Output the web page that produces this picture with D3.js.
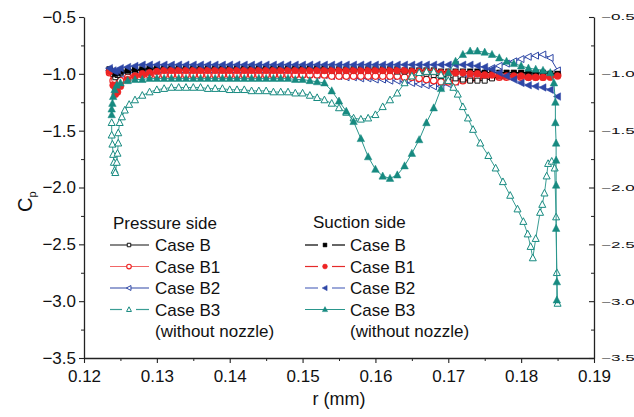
<!DOCTYPE html>
<html><head><meta charset="utf-8">
<script src="https://cdn.jsdelivr.net/npm/d3@7"></script>
<style>body{margin:0;background:#fff}svg{display:block}text{font-family:"Liberation Sans",Arial,sans-serif;fill:#111}</style>
</head><body><svg id="c" width="634" height="417"></svg>
<script>
// ---------- data ----------
const rGrid = [0.1235,0.1240,0.1243,0.1246,0.125,
  0.126,0.127,0.128,0.129,0.130,
  0.131,0.132,0.133,0.134,0.135,0.136,0.137,0.138,0.139,0.140,
  0.141,0.142,0.143,0.144,0.145,0.146,0.147,0.148,0.149,0.150,
  0.151,0.152,0.153,0.154,0.155,0.156,0.157,0.158,0.159,0.160,
  0.161,0.162,0.163,0.164,0.165,0.166,0.167,0.168,0.169,0.170,
  0.171,0.172,0.173,0.174,0.175,0.176,0.177,0.178,0.179,0.180,
  0.181,0.182,0.183,0.184,0.185];

const pressureB = [-0.97,-1.00,-1.03,-1.01,-0.99,
  -0.98,-0.97,-0.97,-0.96,-0.96,
  -0.96,-0.96,-0.96,-0.96,-0.96,-0.96,-0.96,-0.96,-0.96,-0.96,
  -0.96,-0.96,-0.96,-0.96,-0.96,-0.96,-0.96,-0.96,-0.96,-0.96,
  -0.96,-0.96,-0.97,-0.97,-0.97,-0.97,-0.97,-0.97,-0.97,-0.97,
  -0.97,-0.97,-0.98,-0.98,-0.98,-0.99,-1.00,-1.01,-1.02,-1.03,
  -1.04,-1.05,-1.06,-1.06,-1.06,-1.04,-1.02,-1.01,-1.00,-1.00,
  -1.00,-1.00,-1.00,-1.00,-1.01];
const pressureB1 = [-0.99,-1.06,-1.12,-1.10,-1.06,
  -1.03,-1.02,-1.01,-1.01,-1.01,
  -1.01,-1.01,-1.01,-1.01,-1.01,-1.01,-1.01,-1.01,-1.01,-1.01,
  -1.01,-1.01,-1.01,-1.01,-1.01,-1.01,-1.01,-1.01,-1.01,-1.01,
  -1.01,-1.01,-1.01,-1.02,-1.02,-1.02,-1.02,-1.02,-1.02,-1.02,
  -1.02,-1.02,-1.02,-1.03,-1.03,-1.04,-1.05,-1.06,-1.07,-1.07,
  -1.07,-1.06,-1.05,-1.04,-1.03,-1.03,-1.03,-1.03,-1.03,-1.03,
  -1.03,-1.03,-1.03,-1.02,-1.01];
const pressureB2 = [-0.97,-1.00,-1.02,-1.01,-1.00,
  -0.99,-0.99,-0.99,-0.99,-0.99,
  -0.99,-0.99,-0.99,-0.99,-0.99,-0.99,-0.99,-0.99,-0.99,-0.99,
  -0.99,-0.99,-0.99,-0.99,-0.99,-0.99,-0.99,-0.99,-1.00,-1.00,
  -1.00,-1.01,-1.01,-1.02,-1.02,-1.03,-1.03,-1.04,-1.04,-1.05,
  -1.05,-1.06,-1.06,-1.07,-1.08,-1.09,-1.10,-1.11,-1.11,-1.09,
  -1.07,-1.04,-1.02,-1.00,-0.98,-0.95,-0.93,-0.91,-0.89,-0.87,
  -0.85,-0.84,-0.83,-0.86,-0.97];
const suctionB = [-0.96,-0.98,-1.00,-0.99,-0.98,
  -0.97,-0.96,-0.96,-0.95,-0.95,
  -0.95,-0.95,-0.95,-0.95,-0.95,-0.95,-0.95,-0.95,-0.95,-0.95,
  -0.95,-0.95,-0.95,-0.95,-0.95,-0.95,-0.95,-0.95,-0.95,-0.95,
  -0.95,-0.95,-0.95,-0.96,-0.96,-0.96,-0.96,-0.96,-0.96,-0.96,
  -0.96,-0.96,-0.96,-0.97,-0.97,-0.97,-0.97,-0.97,-0.98,-0.98,
  -0.98,-0.98,-0.98,-0.98,-0.99,-0.99,-0.99,-0.99,-0.99,-0.99,
  -0.99,-0.99,-0.99,-1.00,-1.00];
const suctionB1 = [-0.98,-1.10,-1.18,-1.16,-1.11,
  -1.05,-1.02,-1.00,-0.99,-0.98,
  -0.97,-0.97,-0.97,-0.97,-0.97,-0.97,-0.97,-0.97,-0.97,-0.97,
  -0.97,-0.97,-0.97,-0.97,-0.97,-0.97,-0.97,-0.97,-0.97,-0.97,
  -0.97,-0.97,-0.97,-0.97,-0.97,-0.97,-0.97,-0.97,-0.97,-0.97,
  -0.97,-0.97,-0.97,-0.97,-0.98,-0.98,-0.98,-0.98,-0.99,-0.99,
  -0.99,-0.99,-1.00,-1.00,-1.01,-1.01,-1.02,-1.02,-1.02,-1.02,
  -1.03,-1.03,-1.03,-1.03,-1.02];
const suctionB2 = [-0.95,-0.97,-0.98,-0.97,-0.95,
  -0.94,-0.93,-0.92,-0.92,-0.92,
  -0.92,-0.92,-0.92,-0.92,-0.92,-0.92,-0.92,-0.92,-0.92,-0.92,
  -0.92,-0.92,-0.92,-0.92,-0.92,-0.92,-0.92,-0.92,-0.92,-0.92,
  -0.92,-0.92,-0.92,-0.92,-0.92,-0.92,-0.92,-0.92,-0.92,-0.92,
  -0.92,-0.92,-0.92,-0.92,-0.92,-0.92,-0.92,-0.92,-0.92,-0.92,
  -0.92,-0.92,-0.92,-0.93,-0.94,-0.96,-0.99,-1.02,-1.05,-1.08,
  -1.10,-1.11,-1.12,-1.14,-1.20];

const rB3Pressure = [0.1238,0.1238,0.1239,0.1240,0.1241,0.1242,0.1243,0.1245,0.1246,0.1247,
  0.1247,0.1249,0.1252,0.1256,0.1262,0.127,0.128,0.129,0.130,
  0.131,0.132,0.133,0.134,0.135,0.136,0.137,0.138,0.139,0.140,
  0.141,0.142,0.143,0.144,0.145,0.146,0.147,0.148,0.149,0.150,
  0.151,0.152,0.153,0.154,0.155,0.156,0.157,0.158,0.159,0.160,
  0.161,0.162,0.163,0.164,0.165,0.166,0.167,0.168,0.169,0.170,
  0.1707,0.1713,0.1720,0.1727,0.1734,0.1744,0.1755,0.1765,0.1775,0.1785,
  0.1795,0.1803,0.1809,0.1813,0.1816,0.1820,0.1826,0.1829,0.1832,0.1835,
  0.1837,0.1842,0.1846,0.1848,0.1849,0.1850];
const cpB3Pressure = [-1.43,-1.54,-1.62,-1.71,-1.78,-1.85,-1.87,-1.78,-1.70,-1.61,
  -1.52,-1.43,-1.38,-1.32,-1.27,-1.23,-1.19,-1.16,-1.14,
  -1.13,-1.12,-1.12,-1.12,-1.12,-1.12,-1.13,-1.13,-1.13,-1.14,
  -1.14,-1.14,-1.15,-1.15,-1.15,-1.16,-1.16,-1.16,-1.17,-1.17,
  -1.19,-1.21,-1.23,-1.26,-1.30,-1.34,-1.39,-1.40,-1.39,-1.36,
  -1.29,-1.23,-1.17,-1.08,-1.02,-0.99,-0.98,-0.98,-1.01,-1.06,
  -1.12,-1.18,-1.29,-1.39,-1.49,-1.61,-1.72,-1.83,-1.95,-2.07,
  -2.19,-2.30,-2.41,-2.52,-2.62,-2.45,-2.22,-2.15,-2.05,-1.90,
  -1.79,-1.77,-1.83,-2.26,-2.75,-3.02];

const rB3Suction = [0.1238,0.1238,0.1239,0.1240,0.1242,0.1245,0.125,
  0.126,0.127,0.128,0.129,0.130,
  0.131,0.132,0.133,0.134,0.135,0.136,0.137,0.138,0.139,0.140,
  0.141,0.142,0.143,0.144,0.145,0.146,0.147,0.148,0.149,0.150,
  0.151,0.152,0.153,0.154,0.155,0.156,0.157,0.158,0.159,0.160,
  0.161,0.162,0.163,0.164,0.165,0.166,0.167,0.168,0.169,0.170,
  0.171,0.172,0.173,0.174,0.175,0.176,0.177,0.178,0.179,0.180,
  0.181,0.182,0.183,0.184,
  0.1845,0.1847,0.1847,0.1848,0.1848,0.1848,0.1848,0.1849,0.1849];
const cpB3Suction = [-1.36,-1.31,-1.26,-1.20,-1.14,-1.10,-1.08,
  -1.06,-1.05,-1.05,-1.04,-1.04,
  -1.04,-1.04,-1.04,-1.04,-1.04,-1.04,-1.04,-1.04,-1.04,-1.04,
  -1.04,-1.04,-1.04,-1.04,-1.04,-1.04,-1.04,-1.04,-1.05,-1.05,
  -1.06,-1.07,-1.08,-1.15,-1.24,-1.33,-1.42,-1.57,-1.73,-1.84,
  -1.90,-1.92,-1.89,-1.81,-1.70,-1.58,-1.43,-1.30,-1.13,-0.99,
  -0.89,-0.83,-0.80,-0.80,-0.81,-0.83,-0.86,-0.89,-0.91,-0.93,
  -0.95,-0.96,-0.97,-0.99,
  -1.08,-1.25,-1.43,-1.61,-1.76,-1.98,-2.36,-2.83,-2.99];

const xTicks = [0.12,0.13,0.14,0.15,0.16,0.17,0.18,0.19];
const xMinorTicks = [0.125,0.135,0.145,0.155,0.165,0.175,0.185];
const yTicks = [-3.5,-3.0,-2.5,-2.0,-1.5,-1.0,-0.5];
const yMinorTicks = [-3.25,-2.75,-2.25,-1.75,-1.25,-0.75];
const legendLabels = ["Case B","Case B1","Case B2","Case B3"];
const legendTitles = ["Pressure side","Suction side"];
const legendNote = "(without nozzle)";

// ---------- drawing ----------
const svg = d3.select('#c');
const x = d3.scaleLinear().domain([0.12,0.19]).range([84,594]);
const y = d3.scaleLinear().domain([-3.5,-0.5]).range([358,17]);

const TEAL = '#178a80', BLUE = '#2e47a6', RED = '#ee2424';
const markerPath = {
  square: s => `M${-s/2},${-s/2}h${s}v${s}h${-s}Z`,
  tri: s => `M0,${-s*0.55}L${s/2},${s*0.4}L${-s/2},${s*0.4}Z`,
  left: s => `M${-s*0.55},0L${s*0.4},${-s/2}L${s*0.4},${s/2}Z`,
  circle: s => `M${s/2},0A${s/2},${s/2} 0 1,1 ${-s/2},0A${s/2},${s/2} 0 1,1 ${s/2},0Z`
};

function mk(r, v, o){ return Object.assign({pts: d3.zip(r, v)}, o); }
const series = [
  mk(rGrid, pressureB2, {line:BLUE, lw:1, m:'left', s:7, fill:'#fff', stroke:BLUE, msw:1}),
  mk(rGrid, pressureB1, {line:'#f26666', lw:1, m:'circle', s:6.5, fill:'#fff', stroke:RED, msw:1.2}),
  mk(rGrid, pressureB, {line:'#111', lw:1, m:'square', s:5, fill:'#fff', stroke:'#111', msw:1}),
  mk(rGrid, suctionB, {line:'#000', lw:1.2, m:'square', s:5.5, fill:'#000', stroke:'#000', msw:0.5}),
  mk(rGrid, suctionB1, {line:'#e52a2a', lw:1, m:'circle', s:7, fill:RED, stroke:RED, msw:0.5}),
  mk(rGrid, suctionB2, {line:'#5a6fc0', lw:1, m:'left', s:7.5, fill:BLUE, stroke:BLUE, msw:0.5}),
  mk(rB3Pressure, cpB3Pressure, {line:'#3a9d94', lw:1, m:'tri', s:7, fill:'#fff', stroke:TEAL, msw:1}),
  mk(rB3Suction, cpB3Suction, {line:'#2a968c', lw:1, m:'tri', s:7.5, fill:TEAL, stroke:TEAL, msw:0.5})
];

const line = d3.line().x(d=>x(d[0])).y(d=>y(d[1]));
const plot = svg.append('g');
series.forEach(sr=>{
  const g = plot.append('g');
  g.append('path').attr('d', line(sr.pts)).attr('fill','none')
    .attr('stroke', sr.line).attr('stroke-width', sr.lw);
  g.selectAll('path.m').data(sr.pts).join('path').attr('class','m')
    .attr('transform', d=>`translate(${x(d[0])},${y(d[1])})`)
    .attr('d', markerPath[sr.m](sr.s))
    .attr('fill', sr.fill).attr('stroke', sr.stroke).attr('stroke-width', sr.msw);
});

// axes
const fmtY = d3.format('.1f'), fmtX = d3.format('.2f');
function styleAxis(g){ g.selectAll('path.domain').attr('stroke','#222').attr('stroke-width',1.3);
  g.selectAll('.tick line').attr('stroke','#222').attr('stroke-width',1.1); }

const gl = svg.append('g').attr('transform','translate(84,0)')
  .call(d3.axisLeft(y).tickValues(yTicks).tickFormat(fmtY).tickSize(5).tickSizeOuter(0).tickPadding(3));
gl.selectAll('text').attr('font-size',17).attr('font-family','"Liberation Sans",Arial,sans-serif').attr('fill','#111');
styleAxis(gl);
svg.append('g').attr('transform','translate(84,0)')
  .call(d3.axisLeft(y).tickValues(yMinorTicks).tickFormat('').tickSize(3))
  .call(g=>{g.select('.domain').remove(); g.selectAll('line').attr('stroke','#222');});

const gr = svg.append('g').attr('transform','translate(594,0)')
  .call(d3.axisRight(y).tickValues(yTicks).tickFormat(fmtY).tickSizeInner(-5).tickSizeOuter(0).tickPadding(7));
gr.selectAll('text').attr('font-size',9).attr('font-family','"Liberation Sans",Arial,sans-serif').attr('fill','#111')
  .attr('x',0).attr('transform','translate(7,0) scale(1.9,1)');
styleAxis(gr);
svg.append('g').attr('transform','translate(594,0)')
  .call(d3.axisRight(y).tickValues(yMinorTicks).tickFormat('').tickSizeInner(-3))
  .call(g=>{g.select('.domain').remove(); g.selectAll('line').attr('stroke','#222');});

const gb = svg.append('g').attr('transform','translate(0,358)')
  .call(d3.axisBottom(x).tickValues(xTicks).tickFormat(fmtX).tickSize(5).tickSizeOuter(0).tickPadding(7));
gb.selectAll('text').attr('font-size',17).attr('font-family','"Liberation Sans",Arial,sans-serif').attr('fill','#111');
styleAxis(gb);
svg.append('g').attr('transform','translate(0,358)')
  .call(d3.axisBottom(x).tickValues(xMinorTicks).tickFormat('').tickSize(3))
  .call(g=>{g.select('.domain').remove(); g.selectAll('line').attr('stroke','#222');});

// axis titles
svg.append('text').attr('x',339).attr('y',405).attr('text-anchor','middle')
  .attr('font-size',18).text('r (mm)');
const yl = svg.append('text').attr('transform','translate(32,212) rotate(-90)').attr('font-size',20);
yl.append('tspan').text('C');
yl.append('tspan').attr('font-size',11).attr('dy',4).text('p');

// legend
const legendCols = [
  {title:legendTitles[0], tx:113, ty:229, lx0:110, lx1:149, mx:129, textX:155,
   items:[series[2], series[1], series[0], series[6]], gaps:[false,false,false,true]},
  {title:legendTitles[1], tx:313, ty:228, lx0:305, lx1:345, mx:325, textX:350,
   items:[series[3], series[4], series[5], series[7]], gaps:[true,true,true,false]}
];
const rowY = [251, 272.5, 294, 315.5];
legendCols.forEach(col=>{
  svg.append('text').attr('x',col.tx).attr('y',col.ty).attr('font-size',17).text(col.title);
  col.items.forEach((sr,i)=>{
    const cy = rowY[i]-6;
    const segs = col.gaps[i] ? [[col.lx0, col.mx-7],[col.mx+7, col.lx1]] : [[col.lx0, col.lx1]];
    segs.forEach(sg=> svg.append('line').attr('x1',sg[0]).attr('x2',sg[1]).attr('y1',cy).attr('y2',cy)
      .attr('stroke', sr.line).attr('stroke-width',1.2));
    svg.append('path').attr('transform',`translate(${col.mx},${cy})`)
      .attr('d', markerPath[sr.m](sr.s*0.7))
      .attr('fill', sr.fill).attr('stroke', sr.stroke).attr('stroke-width', sr.msw);
    svg.append('text').attr('x',col.textX).attr('y',rowY[i]).attr('font-size',17).text(legendLabels[i]);
  });
  svg.append('text').attr('x',col.textX).attr('y',336.5).attr('font-size',17).text(legendNote);
});
</script></body></html>
